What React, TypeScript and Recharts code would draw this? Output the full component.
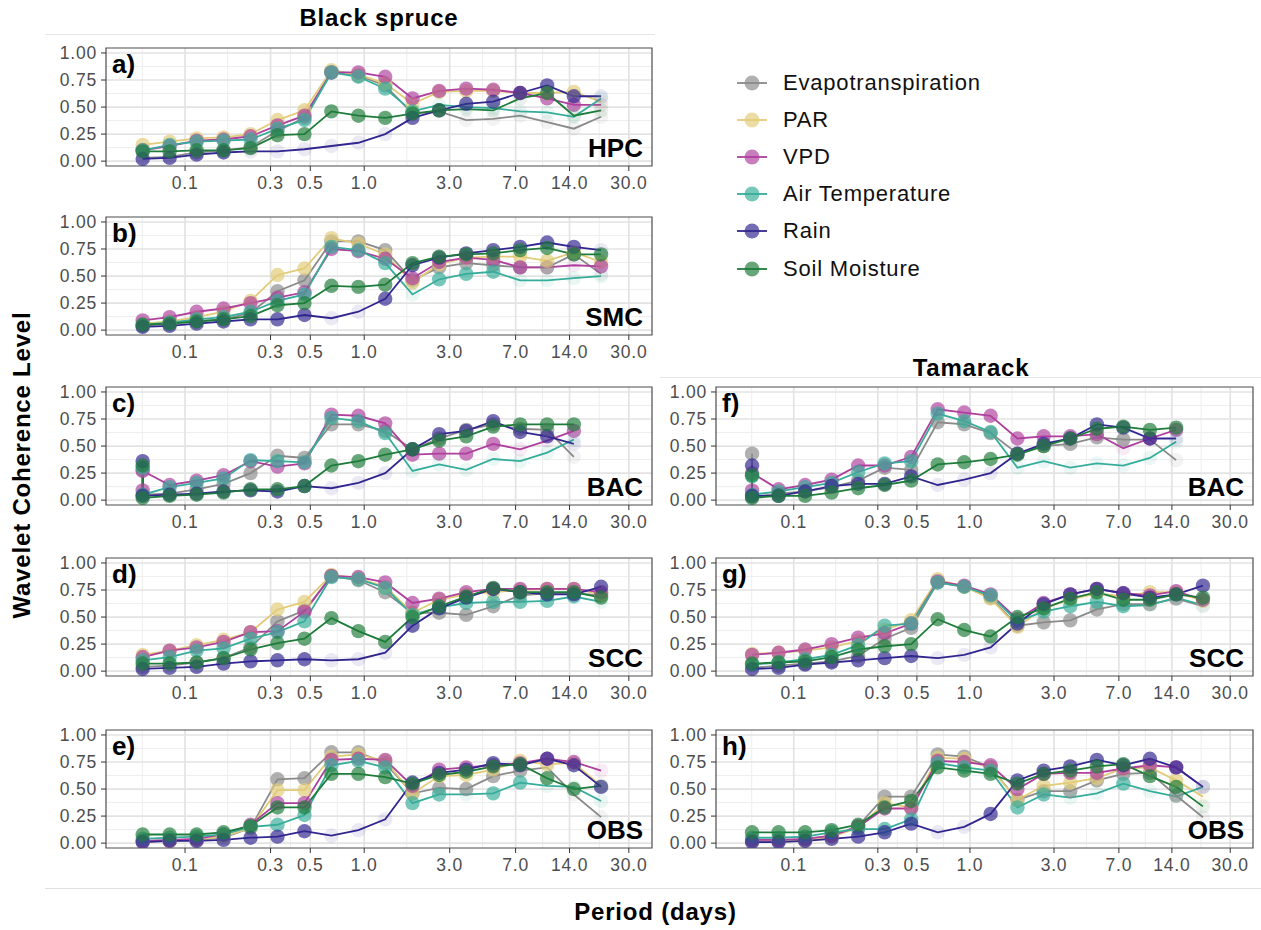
import React from 'react';
import { LineChart, Line, XAxis, YAxis, CartesianGrid, ReferenceArea } from 'recharts';

// wavelet periods (days), one per scale
const periods = [0.058, 0.082, 0.116, 0.164, 0.232, 0.328, 0.464, 0.656, 0.928, 1.31, 1.86, 2.62, 3.71, 5.25, 7.42, 10.5, 14.8, 21.0];
// BAC rows: two rows share the first period, no row at the last one
const periodsBAC = [0.058, 0.058, 0.082, 0.116, 0.164, 0.232, 0.328, 0.464, 0.656, 0.928, 1.31, 1.86, 2.62, 3.71, 5.25, 7.42, 10.5, 14.8];

const seriesNames = ['Evapotranspiration', 'PAR', 'VPD', 'Air Temperature', 'Rain', 'Soil Moisture'];
const seriesColors = ['#8a8a8a', '#e2cb78', '#ae3f9d', '#36ad9a', '#31268f', '#1d7c3a'];

const xTicks = [0.1, 0.3, 0.5, 1, 3, 7, 14, 30];
const xMinor = [0.0577, 0.173, 0.387, 0.707, 1.73, 4.58, 9.9, 20.5];
const yTicks = [0, 0.25, 0.5, 0.75, 1];
const yMinor = [0.125, 0.375, 0.625, 0.875];

// Black spruce HPC: ET, PAR, VPD, Air, Rain, Soil
const bsHPC = [
  [0.03, 0.04, 0.08, 0.10, 0.13, 0.28, 0.40, 0.82, 0.79, 0.70, 0.44, 0.46, 0.38, 0.39, 0.42, 0.36, 0.30, 0.41],
  [0.15, 0.18, 0.21, 0.22, 0.25, 0.38, 0.47, 0.84, 0.80, 0.72, 0.53, 0.64, 0.65, 0.65, 0.63, 0.63, 0.64, 0.55],
  [0.10, 0.14, 0.19, 0.20, 0.23, 0.33, 0.42, 0.82, 0.82, 0.78, 0.58, 0.65, 0.67, 0.66, 0.63, 0.58, 0.52, 0.52],
  [0.10, 0.15, 0.18, 0.19, 0.20, 0.30, 0.38, 0.82, 0.78, 0.67, 0.46, 0.52, 0.50, 0.49, 0.46, 0.45, 0.41, 0.58],
  [0.02, 0.03, 0.06, 0.08, 0.09, 0.09, 0.11, 0.14, 0.17, 0.25, 0.40, 0.47, 0.53, 0.55, 0.63, 0.70, 0.60, 0.60],
  [0.09, 0.09, 0.10, 0.10, 0.12, 0.24, 0.25, 0.46, 0.42, 0.40, 0.44, 0.47, 0.48, 0.47, 0.58, 0.63, 0.42, 0.47],
];
const bsHPCFaded = ['110000000001111111', '000000000000000001', '000000000000000001', '000000000001111111', '000011111100000001', '000000000000111011'];

const bsSMC = [
  [0.04, 0.06, 0.08, 0.10, 0.16, 0.36, 0.46, 0.82, 0.82, 0.74, 0.46, 0.58, 0.62, 0.60, 0.58, 0.58, 0.70, 0.52],
  [0.06, 0.08, 0.12, 0.17, 0.27, 0.51, 0.57, 0.85, 0.80, 0.70, 0.44, 0.61, 0.67, 0.68, 0.68, 0.64, 0.72, 0.63],
  [0.09, 0.12, 0.17, 0.20, 0.25, 0.30, 0.35, 0.75, 0.73, 0.66, 0.48, 0.63, 0.67, 0.65, 0.58, 0.58, 0.60, 0.59],
  [0.05, 0.07, 0.10, 0.12, 0.17, 0.27, 0.33, 0.77, 0.74, 0.62, 0.33, 0.47, 0.52, 0.54, 0.46, 0.46, 0.48, 0.50],
  [0.03, 0.04, 0.06, 0.08, 0.10, 0.10, 0.14, 0.11, 0.17, 0.29, 0.60, 0.67, 0.71, 0.74, 0.77, 0.81, 0.77, 0.74],
  [0.05, 0.06, 0.08, 0.10, 0.13, 0.23, 0.25, 0.41, 0.40, 0.42, 0.62, 0.68, 0.70, 0.71, 0.74, 0.76, 0.70, 0.70],
];
const bsSMCFaded = ['000000000000000001', '000000000000000000', '000000000000000110', '000000000010001111', '000000011000000001', '000000000000000000'];

// BAC has no PAR record
const bsBAC = [
  [0.28, 0.05, 0.06, 0.10, 0.15, 0.25, 0.41, 0.39, 0.70, 0.70, 0.64, 0.47, 0.57, 0.65, 0.70, 0.66, 0.65, 0.40],
  null,
  [0.09, 0.27, 0.14, 0.18, 0.23, 0.36, 0.31, 0.34, 0.79, 0.78, 0.71, 0.42, 0.43, 0.43, 0.52, 0.47, 0.55, 0.64],
  [0.30, 0.05, 0.12, 0.16, 0.20, 0.37, 0.36, 0.35, 0.76, 0.73, 0.62, 0.27, 0.33, 0.28, 0.38, 0.36, 0.44, 0.56],
  [0.36, 0.04, 0.05, 0.06, 0.08, 0.09, 0.08, 0.13, 0.11, 0.16, 0.25, 0.47, 0.61, 0.64, 0.73, 0.63, 0.59, 0.52],
  [0.32, 0.02, 0.04, 0.05, 0.07, 0.10, 0.10, 0.13, 0.32, 0.36, 0.42, 0.47, 0.55, 0.59, 0.68, 0.70, 0.70, 0.70],
];
const bsBACFaded = ['000000000000000001', '', '000000000000000110', '000000000001111111', '000000001110000001', '000000000000000000'];

const bsSCC = [
  [0.04, 0.05, 0.08, 0.12, 0.22, 0.46, 0.56, 0.88, 0.84, 0.73, 0.54, 0.54, 0.52, 0.60, 0.70, 0.72, 0.72, 0.70],
  [0.15, 0.19, 0.24, 0.29, 0.36, 0.57, 0.64, 0.89, 0.86, 0.78, 0.54, 0.66, 0.71, 0.73, 0.75, 0.76, 0.76, 0.71],
  [0.13, 0.19, 0.22, 0.27, 0.36, 0.37, 0.55, 0.88, 0.87, 0.82, 0.63, 0.67, 0.73, 0.76, 0.76, 0.76, 0.76, 0.73],
  [0.10, 0.13, 0.19, 0.21, 0.30, 0.36, 0.46, 0.87, 0.85, 0.77, 0.52, 0.59, 0.63, 0.64, 0.64, 0.65, 0.69, 0.64],
  [0.02, 0.03, 0.04, 0.07, 0.09, 0.10, 0.11, 0.10, 0.11, 0.17, 0.42, 0.58, 0.68, 0.76, 0.73, 0.71, 0.71, 0.78],
  [0.07, 0.07, 0.08, 0.12, 0.20, 0.26, 0.30, 0.49, 0.37, 0.27, 0.50, 0.60, 0.69, 0.77, 0.73, 0.73, 0.73, 0.68],
];
const bsSCCFaded = ['010000000000000000', '000000000000000000', '000000000000000000', '000000000000000001', '000000011100000000', '000000000000000000'];

const bsOBS = [
  [0.01, 0.02, 0.03, 0.05, 0.14, 0.59, 0.60, 0.84, 0.84, 0.74, 0.46, 0.51, 0.50, 0.62, 0.67, 0.70, 0.45, 0.24],
  [0.02, 0.02, 0.03, 0.06, 0.14, 0.49, 0.49, 0.80, 0.82, 0.76, 0.46, 0.62, 0.63, 0.68, 0.76, 0.73, 0.74, 0.53],
  [0.02, 0.03, 0.04, 0.08, 0.17, 0.37, 0.37, 0.77, 0.78, 0.77, 0.53, 0.68, 0.70, 0.72, 0.74, 0.78, 0.75, 0.67],
  [0.04, 0.05, 0.06, 0.08, 0.15, 0.17, 0.26, 0.72, 0.76, 0.70, 0.37, 0.45, 0.45, 0.46, 0.56, 0.53, 0.52, 0.39],
  [0.01, 0.02, 0.02, 0.03, 0.05, 0.06, 0.11, 0.07, 0.12, 0.22, 0.56, 0.65, 0.68, 0.74, 0.72, 0.78, 0.72, 0.52],
  [0.08, 0.08, 0.08, 0.10, 0.16, 0.33, 0.33, 0.64, 0.64, 0.61, 0.55, 0.63, 0.66, 0.71, 0.73, 0.60, 0.50, 0.53],
];
const bsOBSFaded = ['100100000000000111', '000000000000000001', '000000000000000001', '000000000000100111', '000000011100000000', '000000000000000001'];

const tmBAC = [
  [0.43, 0.03, 0.06, 0.08, 0.12, 0.18, 0.30, 0.28, 0.72, 0.70, 0.62, 0.43, 0.50, 0.52, 0.58, 0.56, 0.56, 0.37],
  null,
  [0.09, 0.25, 0.10, 0.14, 0.19, 0.32, 0.32, 0.40, 0.84, 0.81, 0.78, 0.57, 0.59, 0.59, 0.61, 0.48, 0.57, 0.65],
  [0.22, 0.05, 0.08, 0.12, 0.16, 0.26, 0.34, 0.36, 0.80, 0.73, 0.63, 0.30, 0.36, 0.30, 0.34, 0.32, 0.39, 0.54],
  [0.32, 0.04, 0.04, 0.08, 0.13, 0.15, 0.15, 0.22, 0.14, 0.19, 0.25, 0.43, 0.52, 0.57, 0.70, 0.67, 0.57, 0.57],
  [0.23, 0.02, 0.04, 0.04, 0.07, 0.11, 0.14, 0.18, 0.33, 0.35, 0.38, 0.42, 0.50, 0.57, 0.66, 0.68, 0.65, 0.67],
];
const tmBACFaded = ['000000000000000011', '', '000000000000000100', '000000000001111111', '000000001110000001', '000000000000000000'];

const tmSCC = [
  [0.03, 0.05, 0.07, 0.09, 0.14, 0.30, 0.40, 0.82, 0.78, 0.68, 0.42, 0.45, 0.47, 0.57, 0.62, 0.62, 0.67, 0.60],
  [0.16, 0.17, 0.19, 0.22, 0.28, 0.38, 0.47, 0.85, 0.78, 0.67, 0.41, 0.58, 0.66, 0.72, 0.69, 0.73, 0.73, 0.65],
  [0.15, 0.17, 0.20, 0.25, 0.31, 0.35, 0.44, 0.83, 0.79, 0.71, 0.48, 0.63, 0.71, 0.76, 0.72, 0.70, 0.74, 0.66],
  [0.06, 0.08, 0.11, 0.15, 0.24, 0.42, 0.44, 0.82, 0.78, 0.70, 0.46, 0.55, 0.60, 0.64, 0.60, 0.61, 0.68, 0.61],
  [0.02, 0.03, 0.06, 0.08, 0.10, 0.12, 0.14, 0.12, 0.15, 0.22, 0.44, 0.62, 0.71, 0.76, 0.72, 0.68, 0.71, 0.79],
  [0.07, 0.08, 0.09, 0.13, 0.20, 0.23, 0.25, 0.48, 0.38, 0.32, 0.50, 0.58, 0.67, 0.73, 0.66, 0.66, 0.71, 0.68],
];
const tmSCCFaded = ['100000000000000001', '000000000000000000', '000000000000000000', '000000000000000111', '000000011100000000', '000000000000000000'];

const tmOBS = [
  [0.02, 0.02, 0.03, 0.06, 0.16, 0.43, 0.43, 0.82, 0.80, 0.70, 0.40, 0.48, 0.48, 0.58, 0.64, 0.65, 0.44, 0.24],
  [0.03, 0.03, 0.03, 0.06, 0.14, 0.37, 0.33, 0.79, 0.78, 0.69, 0.40, 0.53, 0.56, 0.60, 0.69, 0.70, 0.58, 0.43],
  [0.03, 0.03, 0.04, 0.07, 0.15, 0.32, 0.32, 0.76, 0.75, 0.72, 0.50, 0.64, 0.65, 0.65, 0.69, 0.72, 0.70, 0.52],
  [0.05, 0.05, 0.06, 0.10, 0.13, 0.13, 0.22, 0.74, 0.70, 0.67, 0.33, 0.45, 0.42, 0.46, 0.55, 0.48, 0.43, 0.52],
  [0.01, 0.01, 0.02, 0.04, 0.06, 0.10, 0.18, 0.10, 0.15, 0.27, 0.58, 0.67, 0.71, 0.77, 0.72, 0.78, 0.70, 0.52],
  [0.10, 0.10, 0.10, 0.12, 0.17, 0.33, 0.39, 0.70, 0.67, 0.64, 0.55, 0.64, 0.67, 0.71, 0.73, 0.62, 0.52, 0.34],
];
const tmOBSFaded = ['000000000000000001', '000000000000000001', '000000000000000001', '000000000000110111', '000000011000000001', '000000000000000001'];

const FONT = '"Liberation Sans", Arial, Helvetica, sans-serif';
const X_DOMAIN: [number, number] = [0.0362, 40.4];
const Y_DOMAIN: [number, number] = [-0.045, 1.046];
const PLOT_H = 118;
const AXIS_W = 66;
const AXIS_H = 32;

const panels = [
  { tag: 'a)', site: 'HPC', left: 40, width: 617, top: 48, periods, values: bsHPC, faded: bsHPCFaded },
  { tag: 'b)', site: 'SMC', left: 40, width: 617, top: 217, periods, values: bsSMC, faded: bsSMCFaded },
  { tag: 'c)', site: 'BAC', left: 40, width: 617, top: 387, periods: periodsBAC, values: bsBAC, faded: bsBACFaded },
  { tag: 'd)', site: 'SCC', left: 40, width: 617, top: 558, periods, values: bsSCC, faded: bsSCCFaded },
  { tag: 'e)', site: 'OBS', left: 40, width: 617, top: 730, periods, values: bsOBS, faded: bsOBSFaded },
  { tag: 'f)', site: 'BAC', left: 650, width: 608, top: 387, periods: periodsBAC, values: tmBAC, faded: tmBACFaded },
  { tag: 'g)', site: 'SCC', left: 650, width: 608, top: 558, periods, values: tmSCC, faded: tmSCCFaded },
  { tag: 'h)', site: 'OBS', left: 650, width: 608, top: 730, periods, values: tmOBS, faded: tmOBSFaded },
];

const makeDot = (color: string, flags: string) => (props: any) => {
  const { cx, cy, index } = props;
  if (cx == null || cy == null) return <g key={`n${index}`} />;
  const weak = flags[index] === '1';
  return (
    <circle key={`d${index}`} cx={cx} cy={cy} r={7.2} fill={color}
      fillOpacity={weak ? 0.1 : 0.68} stroke="none" />
  );
};

function Panel({ spec }: { spec: any }) {
  const data = spec.periods.map((p: number, i: number) => {
    const row: any = { p };
    spec.values.forEach((arr: number[] | null, s: number) => {
      if (arr) row[`s${s}`] = arr[i];
    });
    return row;
  });
  const shown = seriesNames.map((_, s) => s).filter((s) => spec.values[s]);
  const plotLeft = spec.left + AXIS_W;
  const plotRight = spec.left + spec.width - 5;
  const plotBottom = spec.top + PLOT_H;

  return (
    <>
      <div style={{ position: 'absolute', left: spec.left, top: spec.top - 5 }}>
        <LineChart width={spec.width} height={5 + PLOT_H + AXIS_H} data={data}
          margin={{ top: 5, right: 5, bottom: 0, left: 0 }}>
          <CartesianGrid verticalValues={xMinor} horizontalValues={yMinor} stroke="#eeeeee" strokeWidth={1} />
          <CartesianGrid verticalValues={xTicks} horizontalValues={yTicks} stroke="#e3e3e3" strokeWidth={1.7} />
          <XAxis dataKey="p" type="number" scale="log" domain={X_DOMAIN} allowDataOverflow
            ticks={xTicks} interval={0} tickFormatter={(v: number) => v.toFixed(1)}
            tick={{ fill: '#4d4d4d', fontSize: 17.5 }} tickLine={{ stroke: '#333333' }}
            tickSize={5} tickMargin={6} axisLine={false} height={AXIS_H} />
          <YAxis type="number" domain={Y_DOMAIN} allowDataOverflow ticks={yTicks} interval={0}
            tickFormatter={(v: number) => v.toFixed(2)} tick={{ fill: '#4d4d4d', fontSize: 17.5 }}
            tickLine={{ stroke: '#333333' }} tickSize={5} tickMargin={4} axisLine={false} width={AXIS_W} />
          {shown.map((s) => (
            <Line key={`pt${s}`} dataKey={`s${s}`} stroke="none" type="linear"
              dot={makeDot(seriesColors[s], spec.faded[s])} activeDot={false}
              isAnimationActive={false} />
          ))}
          {shown.map((s) => (
            <Line key={`ln${s}`} dataKey={`s${s}`} stroke={seriesColors[s]} strokeWidth={1.8}
              type="linear" dot={false} activeDot={false} isAnimationActive={false} />
          ))}
          <ReferenceArea x1={X_DOMAIN[0]} x2={X_DOMAIN[1]} y1={Y_DOMAIN[0]} y2={Y_DOMAIN[1]}
            fill="none" stroke="#4d4d4d" strokeWidth={1.2} ifOverflow="visible" />
        </LineChart>
      </div>
      <div style={{ position: 'absolute', left: plotLeft + 6, top: spec.top + 3, fontSize: 26,
        fontWeight: 700, lineHeight: 1, color: '#000', letterSpacing: 0 }}>{spec.tag}</div>
      <div style={{ position: 'absolute', right: 1261 - plotRight + 9, top: plotBottom - 31,
        fontSize: 26, fontWeight: 700, lineHeight: 1, color: '#000', letterSpacing: 0 }}>{spec.site}</div>
    </>
  );
}

function LegendBox() {
  return (
    <div style={{ position: 'absolute', left: 733, top: 64 }}>
      {seriesNames.map((name, i) => (
        <div key={name} style={{ display: 'flex', alignItems: 'center', height: 37.2 }}>
          <svg width={40} height={20} style={{ marginRight: 10 }}>
            <line x1={4} y1={10} x2={34} y2={10} stroke={seriesColors[i]} strokeWidth={1.8} />
            <circle cx={19} cy={10} r={7.5} fill={seriesColors[i]} fillOpacity={0.68} />
          </svg>
          <span style={{ fontSize: 22, color: '#111' }}>{name}</span>
        </div>
      ))}
    </div>
  );
}

export default function App() {
  return (
    <div style={{ position: 'absolute', left: 0, top: 0, width: 1261, height: 930, background: '#fff',
      fontFamily: FONT, letterSpacing: '0.05em', overflow: 'hidden' }}>
      <div style={{ position: 'absolute', left: 106, width: 546, top: 6, textAlign: 'center',
        fontSize: 24, fontWeight: 700, lineHeight: 1 }}>Black spruce</div>
      <div style={{ position: 'absolute', left: 45, width: 610, top: 34, height: 1, background: '#e6e6e6' }} />
      <div style={{ position: 'absolute', left: 716, width: 510, top: 356, textAlign: 'center',
        fontSize: 24, fontWeight: 700, lineHeight: 1 }}>Tamarack</div>
      <div style={{ position: 'absolute', left: 660, width: 601, top: 377, height: 1, background: '#e6e6e6' }} />
      <div style={{ position: 'absolute', left: 45, width: 1216, top: 888, height: 1, background: '#e0e0e0' }} />
      <div style={{ position: 'absolute', left: 0, width: 1261, top: 900, textAlign: 'center',
        fontSize: 24, fontWeight: 700, lineHeight: 1, paddingLeft: 50, boxSizing: 'border-box' }}>Period (days)</div>
      <div style={{ position: 'absolute', left: 22, top: 465, transform: 'translate(-50%, -50%) rotate(-90deg)',
        whiteSpace: 'nowrap', fontSize: 24, fontWeight: 700, lineHeight: 1 }}>Wavelet Coherence Level</div>
      {panels.map((spec) => <Panel key={spec.tag} spec={spec} />)}
      <LegendBox />
    </div>
  );
}
